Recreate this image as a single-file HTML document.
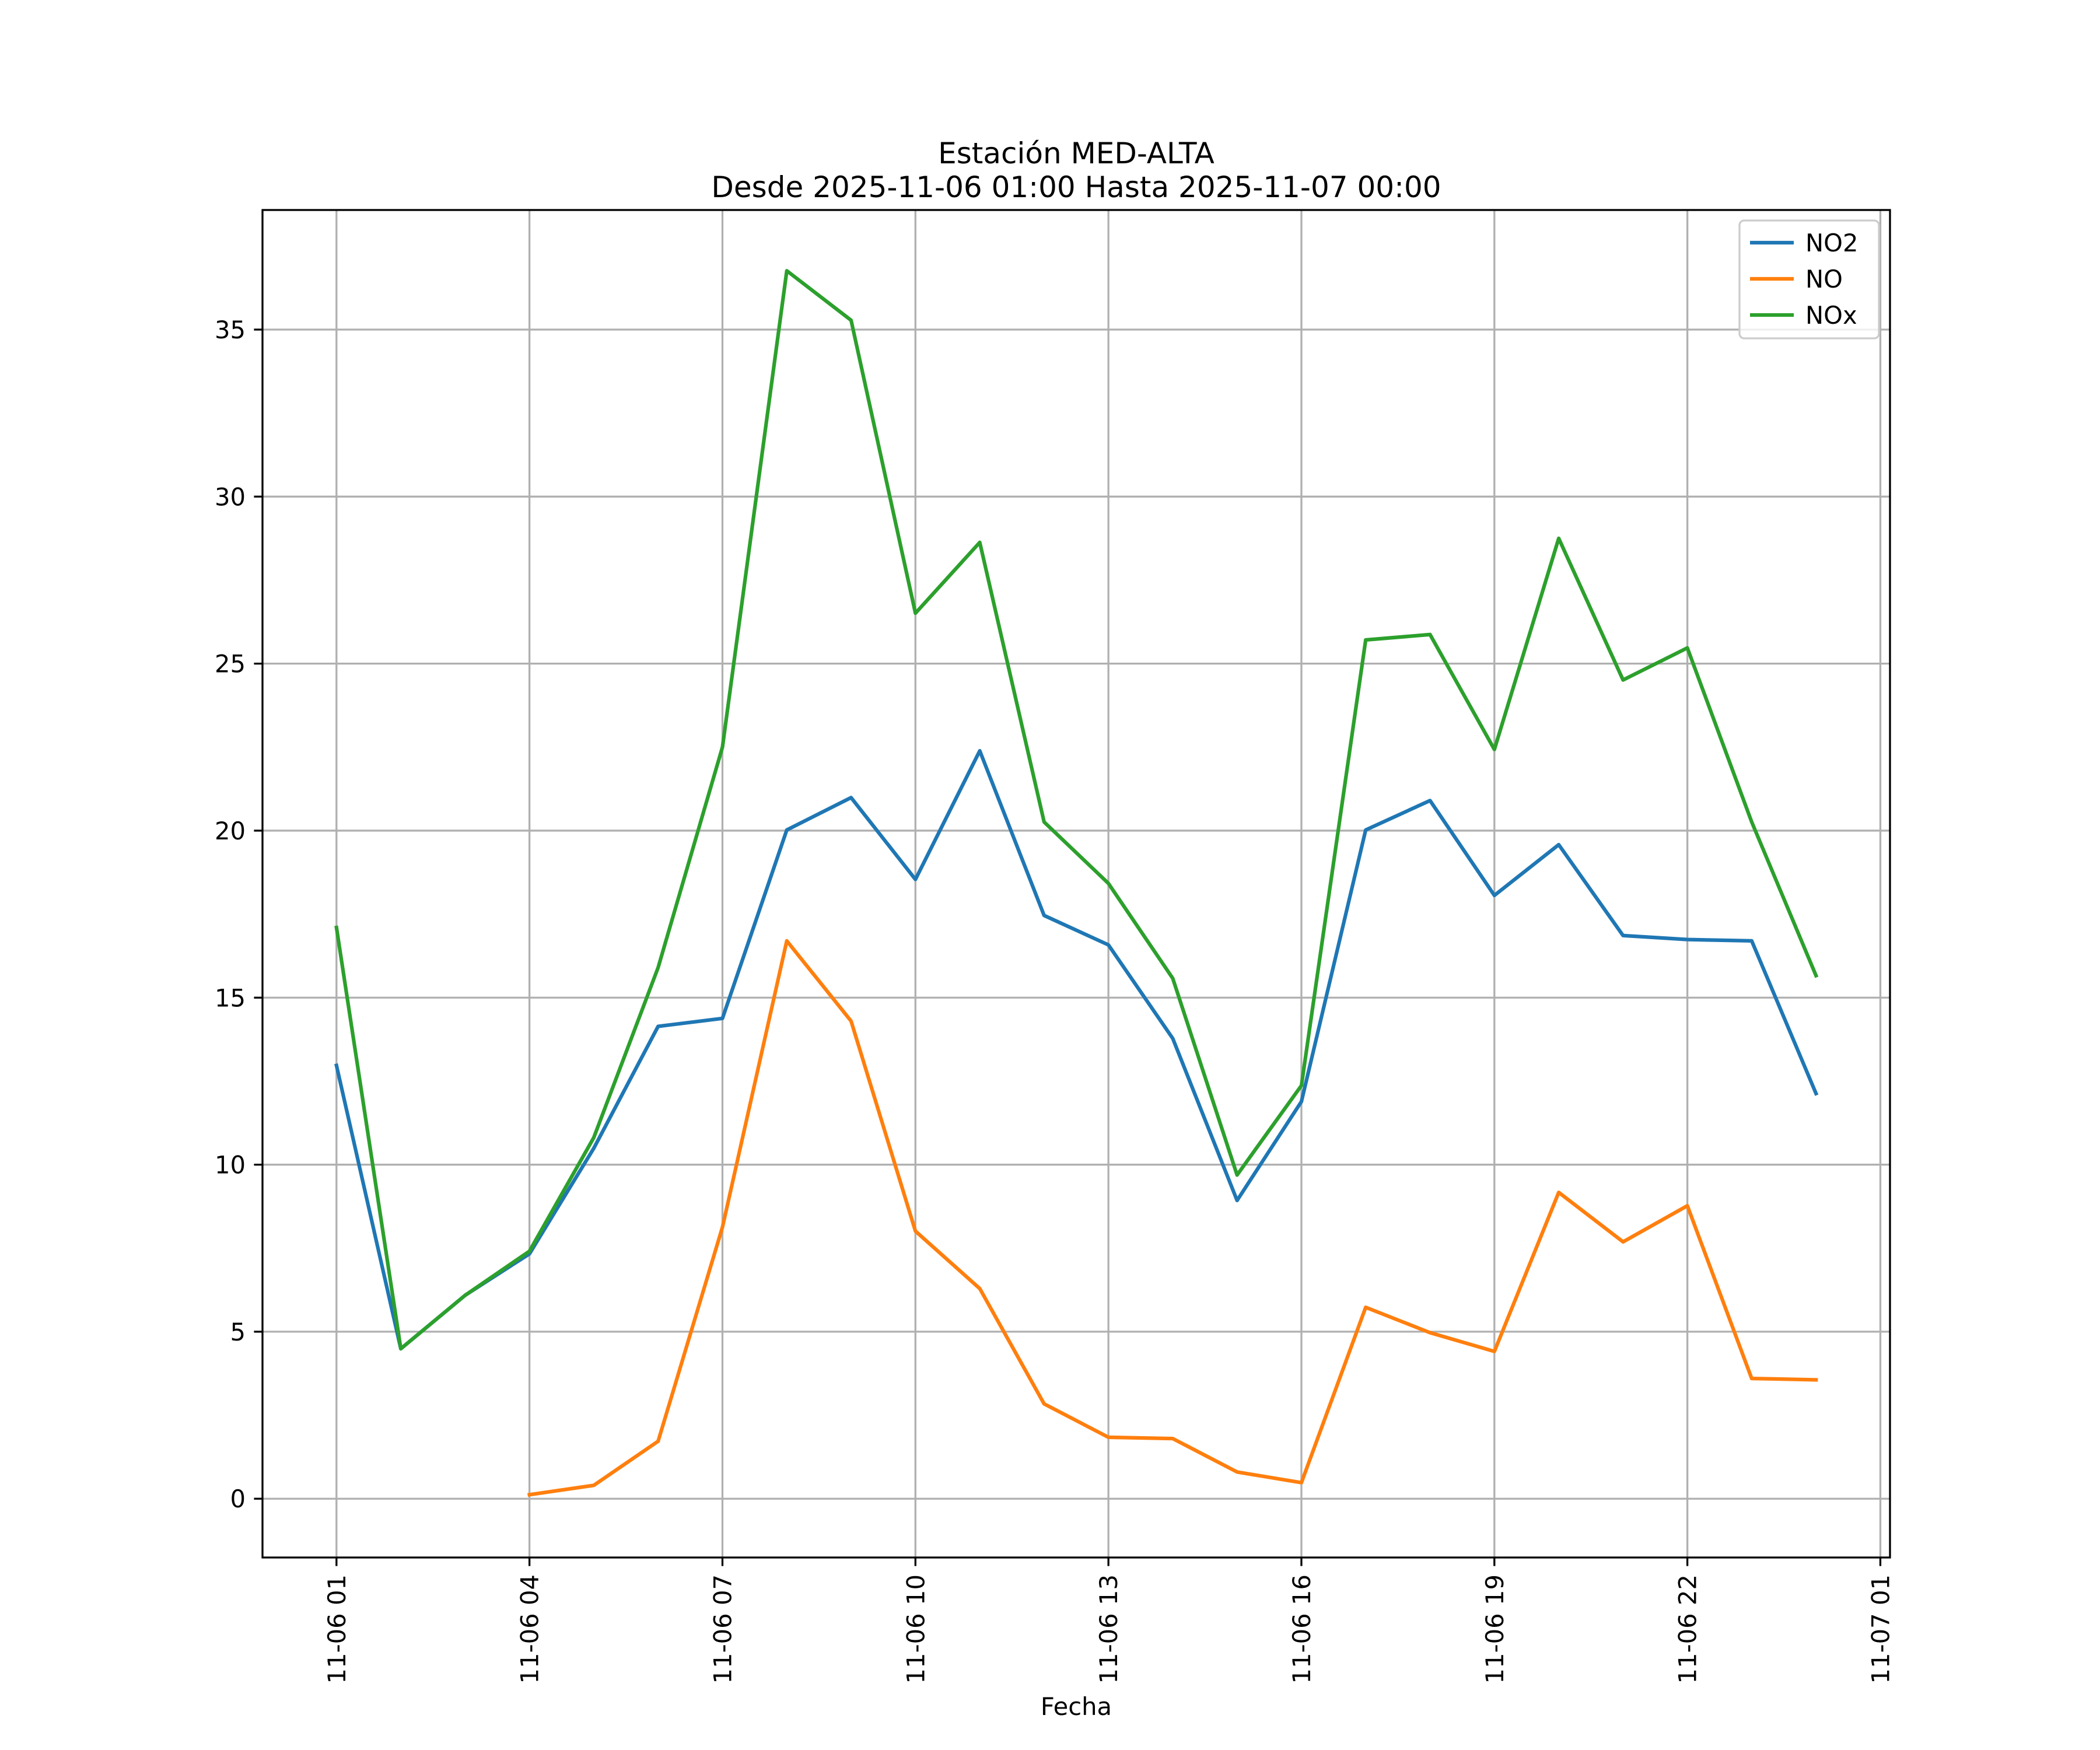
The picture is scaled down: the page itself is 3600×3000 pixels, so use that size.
<!DOCTYPE html>
<html><head><meta charset="utf-8"><style>
html,body{margin:0;padding:0;background:#fff}
svg{display:block}
text{font-family:"DejaVu Sans","Liberation Sans",sans-serif;fill:#000}
</style></head><body>
<svg id="chart" xmlns="http://www.w3.org/2000/svg" width="3600" height="3000" viewBox="0 0 3600 3000">
<rect width="3600" height="3000" fill="#fff"/>
<text x="1845" y="280" font-size="50" text-anchor="middle">Estación MED-ALTA</text>
<text x="1845" y="338" font-size="50" text-anchor="middle">Desde 2025-11-06 01:00 Hasta 2025-11-07 00:00</text>
<g id="grid"></g>
<g id="series"></g>
<rect x="450" y="360" width="2790" height="2310" fill="none" stroke="#000" stroke-width="3.3"/>
<g id="ticks"></g>
<text x="1845" y="2940" font-size="41.7" text-anchor="middle">Fecha</text>
<g id="legend"></g>
</svg>
<script>
const hours = [1,2,3,4,5,6,7,8,9,10,11,12,13,14,15,16,17,18,19,20,21,22,23,24];
const no2 = [12.97,4.49,6.09,7.33,10.49,14.14,14.38,20.02,20.99,18.54,22.39,17.46,16.58,13.78,8.93,11.89,20.02,20.9,18.06,19.58,16.86,16.74,16.7,12.13];
const no = [null,null,null,0.12,0.4,1.72,8.13,16.7,14.3,8.01,6.29,2.84,1.84,1.8,0.8,0.48,5.73,4.97,4.41,9.17,7.69,8.77,3.6,3.56];
const nox = [17.1,4.49,6.09,7.41,10.81,15.9,22.5,36.76,35.28,26.51,28.63,20.26,18.42,15.58,9.69,12.37,25.71,25.87,22.43,28.75,24.51,25.47,20.26,15.66];
const xTickHours = [1,4,7,10,13,16,19,22,25];
const xTickLabels = ["11-06 01","11-06 04","11-06 07","11-06 10","11-06 13","11-06 16","11-06 19","11-06 22","11-07 01"];
const yTicks = [0,5,10,15,20,25,30,35];
const seriesNames = ["NO2","NO","NOx"];
const seriesColors = ["#1f77b4","#ff7f0e","#2ca02c"];

const NS="http://www.w3.org/2000/svg";
const L=450,R=3240,T=360,B=2670;
const xmin=1-1.15,xmax=24+1.15,ymin=-1.76,ymax=38.58;
const X=h=>L+(h-xmin)/(xmax-xmin)*(R-L);
const Y=v=>B-(v-ymin)/(ymax-ymin)*(B-T);
function mk(tag,attrs,parent){const e=document.createElementNS(NS,tag);for(const k in attrs)e.setAttribute(k,attrs[k]);parent.appendChild(e);return e;}
const grid=document.getElementById('grid'),ticks=document.getElementById('ticks'),ser=document.getElementById('series'),leg=document.getElementById('legend');

xTickHours.forEach((h,i)=>{
  const x=X(h);
  const g=mk('line',{x1:x,x2:x,y1:T,y2:B,stroke:'#b0b0b0','stroke-width':3.3},grid);
  
  
  const t=mk('line',{x1:x,x2:x,y1:B,y2:B+14.6,stroke:'#000','stroke-width':3.3},ticks);
  
  
  const tx=mk('text',{x:0,y:0,'font-size':41.7,'text-anchor':'end',transform:`translate(${x+15},${B+29}) rotate(-90)`},ticks);
  tx.textContent=xTickLabels[i];
  
  
});
yTicks.forEach(v=>{
  const y=Y(v);
  const g=mk('line',{x1:L,x2:R,y1:y,y2:y,stroke:'#b0b0b0','stroke-width':3.3},grid);
  
  
  const t=mk('line',{x1:L-14.6,x2:L,y1:y,y2:y,stroke:'#000','stroke-width':3.3},ticks);
  
  
  const tx=mk('text',{x:L-29,y:y+15,'font-size':41.7,'text-anchor':'end'},ticks);
  tx.textContent=String(v);
  
  
});
[no2,no,nox].forEach((arr,si)=>{
  const pts=[];
  arr.forEach((v,i)=>{if(v!==null)pts.push(X(hours[i]).toFixed(1)+','+Y(v).toFixed(1));});
  const p=mk('polyline',{points:pts.join(' '),fill:'none',stroke:seriesColors[si],'stroke-width':6.25,'stroke-linejoin':'round','stroke-linecap':'square'},ser);
  
  
});
const lb=mk('rect',{x:2982,y:378,width:239,height:202,rx:8,fill:'#fff','fill-opacity':0.8,stroke:'#cccccc','stroke-width':3.3},leg);


seriesNames.forEach((n,i)=>{
  const y=416+i*62;
  const l=mk('line',{x1:3000,x2:3075,y1:y,y2:y,stroke:seriesColors[i],'stroke-width':6.25},leg);
  
  
  const t=mk('text',{x:3095,y:y+15,'font-size':41.7},leg);
  t.textContent=n;
  
  
});
</script>
</body></html>
